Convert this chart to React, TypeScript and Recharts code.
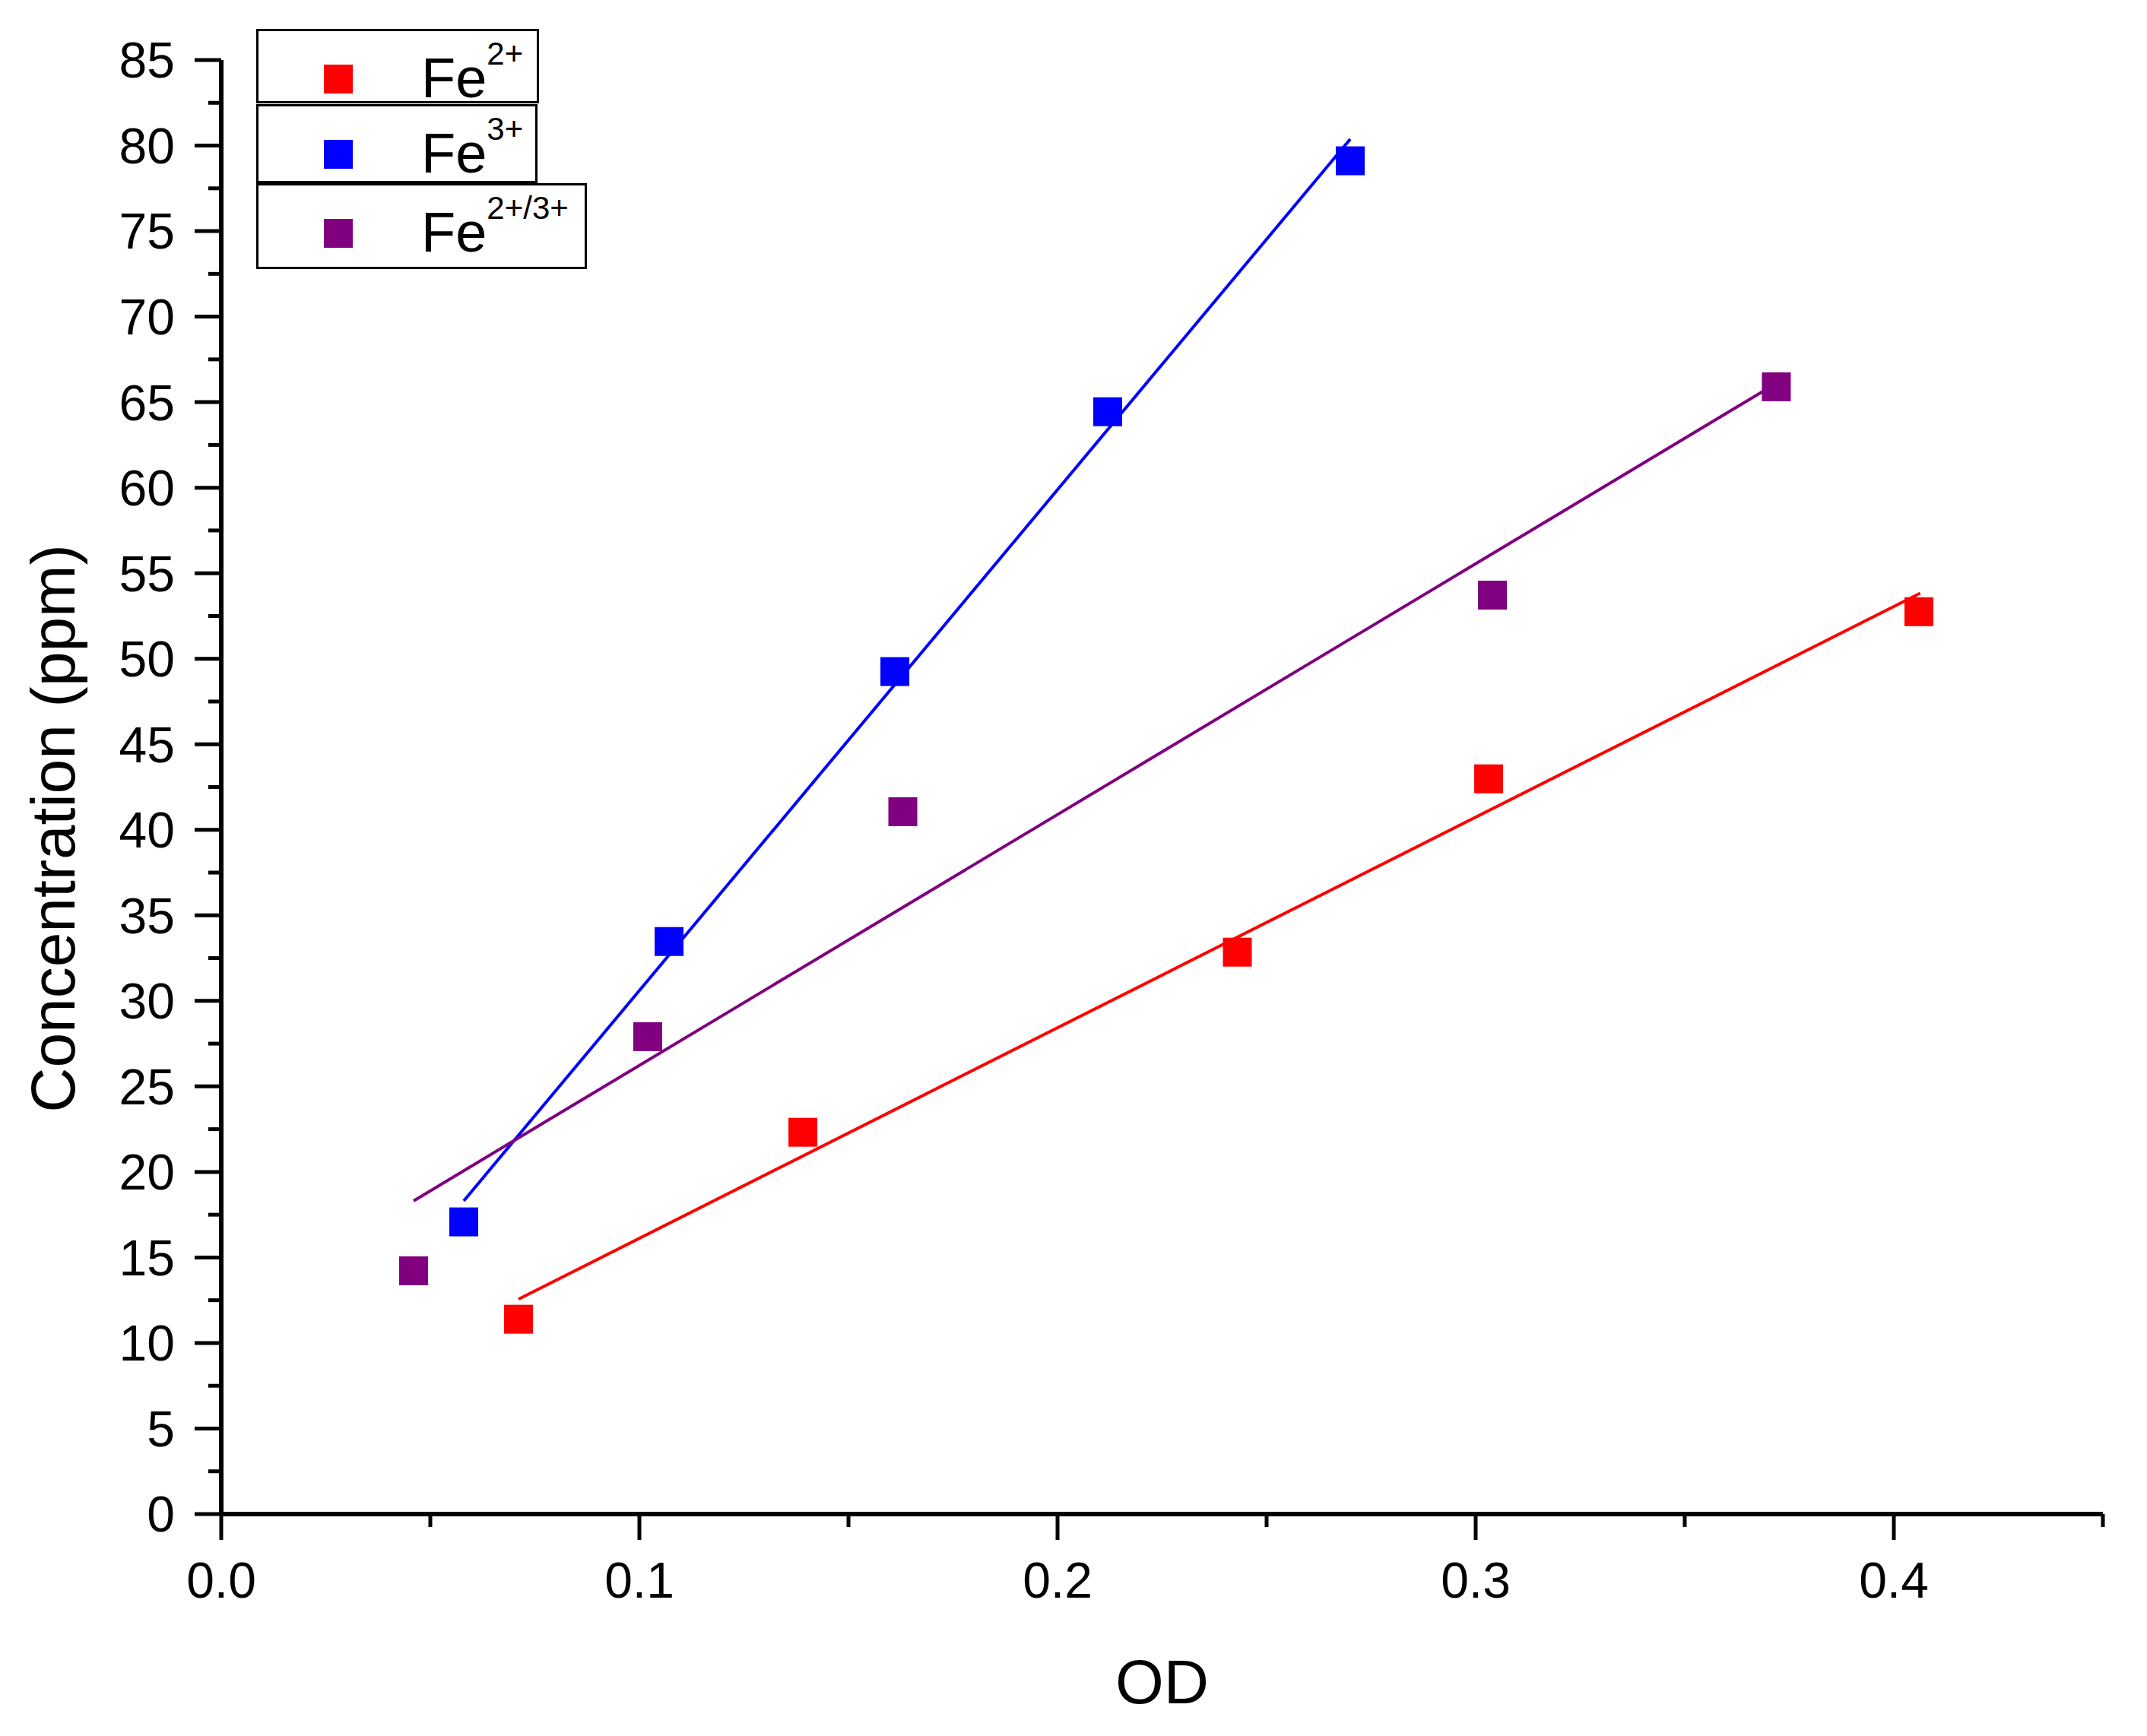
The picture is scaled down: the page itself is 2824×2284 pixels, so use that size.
import { ScatterChart, Scatter, XAxis, YAxis, Legend } from "recharts";

const W = 2824;
const H = 2284;
const FONT = "Arial, 'Liberation Sans', Helvetica, sans-serif";

const RED = "#ff0000";
const BLUE = "#0000ff";
const PURPLE = "#800080";

// measured points (OD vs concentration)
const FE2_OD = [0.0711, 0.1391, 0.243, 0.3031, 0.406];
const FE2_CONC = [11.39, 22.32, 32.85, 42.98, 52.75];
const FE3_OD = [0.058, 0.1071, 0.1611, 0.212, 0.27];
const FE3_CONC = [17.08, 33.47, 49.25, 64.44, 79.11];
const MIX_OD = [0.046, 0.102, 0.163, 0.304, 0.3719];
const MIX_CONC = [14.22, 27.91, 41.06, 53.72, 65.9];

// linear fits, end points
const FE2_FIT_OD = [0.0711, 0.4063];
const FE2_FIT_CONC = [12.56, 53.83];
const FE3_FIT_OD = [0.058, 0.27];
const FE3_FIT_CONC = [18.31, 80.38];
const MIX_FIT_OD = [0.046, 0.3719];
const MIX_FIT_CONC = [18.31, 66.1];

const SERIES_NAMES = ["Fe2+", "Fe3+", "Fe2+/3+"];
const SERIES_SUPS = ["2+", "3+", "2+/3+"];

const X_TICKS = [0, 0.05, 0.1, 0.15, 0.2, 0.25, 0.3, 0.35, 0.4, 0.45];
const X_LABELS = ["0.0", "", "0.1", "", "0.2", "", "0.3", "", "0.4", ""];
const Y_TICKS = [
  0, 2.5, 5, 7.5, 10, 12.5, 15, 17.5, 20, 22.5, 25, 27.5, 30, 32.5, 35, 37.5,
  40, 42.5, 45, 47.5, 50, 52.5, 55, 57.5, 60, 62.5, 65, 67.5, 70, 72.5, 75,
  77.5, 80, 82.5, 85,
];
const Y_LABELS = Y_TICKS.map((t) => (t % 5 === 0 ? String(t) : ""));

const toPoints = (xs: number[], ys: number[]) =>
  xs.map((x, i) => ({ x, y: ys[i] }));

const PLOT_LEFT = 291;
const PLOT_TOP = 79;
const PLOT_RIGHT = 2766;
const PLOT_BOTTOM = 1992;

function XTick(props: any) {
  const { x, payload } = props;
  const label = X_LABELS[X_TICKS.indexOf(payload.value)] ?? "";
  const major = label !== "";
  return (
    <g>
      <line
        x1={x}
        y1={PLOT_BOTTOM}
        x2={x}
        y2={PLOT_BOTTOM + (major ? 34 : 17)}
        stroke="#000"
        strokeWidth={5}
      />
      {major && (
        <text
          x={x}
          y={PLOT_BOTTOM + 63}
          dy="0.71em"
          textAnchor="middle"
          fontSize={66}
          fontFamily={FONT}
          fill="#000"
        >
          {label}
        </text>
      )}
    </g>
  );
}

function YTick(props: any) {
  const { y, payload } = props;
  const label = Y_LABELS[Y_TICKS.indexOf(payload.value)] ?? "";
  const major = label !== "";
  return (
    <g>
      <line
        x1={PLOT_LEFT}
        y1={y}
        x2={PLOT_LEFT - (major ? 35 : 17)}
        y2={y}
        stroke="#000"
        strokeWidth={5}
      />
      {major && (
        <text
          x={PLOT_LEFT - 61}
          y={y}
          dy="0.355em"
          textAnchor="end"
          fontSize={66}
          fontFamily={FONT}
          fill="#000"
        >
          {label}
        </text>
      )}
    </g>
  );
}

const square = (color: string) => (props: any) => (
  <rect x={props.cx - 19} y={props.cy - 19} width={38} height={38} fill={color} />
);

const noShape = () => <g />;

const LEGEND_COLORS = [RED, BLUE, PURPLE];
const BOX_TOPS = [0, 99, 203];
const BOX_HEIGHTS = [98, 104, 113];
const BOX_WIDTHS = [372, 370, 435];

function renderLegend() {
  return (
    <div style={{ position: "relative", width: 440, height: 320 }}>
      {SERIES_NAMES.map((name, i) => (
        <div
          key={name}
          style={{
            position: "absolute",
            left: 0,
            top: BOX_TOPS[i],
            width: BOX_WIDTHS[i],
            height: BOX_HEIGHTS[i],
            boxSizing: "border-box",
            border: "3px solid #000",
            background: "#fff",
          }}
        >
          <div
            style={{
              position: "absolute",
              left: 86,
              top: 44,
              width: 38,
              height: 38,
              background: LEGEND_COLORS[i],
            }}
          />
          <div
            style={{
              position: "absolute",
              left: 214,
              top: 25,
              fontFamily: FONT,
              fontSize: 74,
              lineHeight: 1,
              whiteSpace: "nowrap",
              color: "#000",
            }}
          >
            Fe
            <span style={{ position: "relative", top: -43, fontSize: 42 }}>
              {SERIES_SUPS[i]}
            </span>
          </div>
        </div>
      ))}
    </div>
  );
}

export default function App() {
  return (
    <div
      style={{
        position: "absolute",
        left: 0,
        top: 0,
        width: W,
        height: H,
        background: "#fff",
      }}
    >
      <ScatterChart
        width={W}
        height={H}
        margin={{ top: PLOT_TOP, right: W - PLOT_RIGHT, bottom: 0, left: 0 }}
      >
        <XAxis
          type="number"
          dataKey="x"
          domain={[0, 0.45]}
          ticks={X_TICKS}
          interval={0}
          allowDataOverflow
          height={H - PLOT_BOTTOM}
          axisLine={{ stroke: "#000", strokeWidth: 6 }}
          tickLine={false}
          tick={<XTick />}
          label={(p: any) => (
            <text
              x={PLOT_LEFT + (PLOT_RIGHT - PLOT_LEFT) / 2}
              y={2241}
              textAnchor="middle"
              fontSize={82}
              fontFamily={FONT}
              fill="#000"
            >
              OD
            </text>
          )}
        />
        <YAxis
          type="number"
          dataKey="y"
          domain={[0, 85]}
          ticks={Y_TICKS}
          interval={0}
          allowDataOverflow
          width={PLOT_LEFT}
          axisLine={{ stroke: "#000", strokeWidth: 6 }}
          tickLine={false}
          tick={<YTick />}
          label={(p: any) => (
            <text
              x={98}
              y={1090}
              transform="rotate(-90, 98, 1090)"
              textAnchor="middle"
              fontSize={82}
              fontFamily={FONT}
              fill="#000"
            >
              Concentration (ppm)
            </text>
          )}
        />
        <Legend
          layout="vertical"
          align="center"
          verticalAlign="middle"
          wrapperStyle={{ top: 38, left: 337, width: 440, height: 320 }}
          content={renderLegend}
        />
        <Scatter
          name="fit2"
          data={toPoints(FE2_FIT_OD, FE2_FIT_CONC)}
          fill={RED}
          line={{ strokeWidth: 4 }}
          shape={noShape}
          legendType="none"
          isAnimationActive={false}
        />
        <Scatter
          name="fit3"
          data={toPoints(FE3_FIT_OD, FE3_FIT_CONC)}
          fill={BLUE}
          line={{ strokeWidth: 4 }}
          shape={noShape}
          legendType="none"
          isAnimationActive={false}
        />
        <Scatter
          name="fitmix"
          data={toPoints(MIX_FIT_OD, MIX_FIT_CONC)}
          fill={PURPLE}
          line={{ strokeWidth: 4 }}
          shape={noShape}
          legendType="none"
          isAnimationActive={false}
        />
        <Scatter
          name={SERIES_NAMES[0]}
          data={toPoints(FE2_OD, FE2_CONC)}
          fill={RED}
          shape={square(RED)}
          isAnimationActive={false}
        />
        <Scatter
          name={SERIES_NAMES[1]}
          data={toPoints(FE3_OD, FE3_CONC)}
          fill={BLUE}
          shape={square(BLUE)}
          isAnimationActive={false}
        />
        <Scatter
          name={SERIES_NAMES[2]}
          data={toPoints(MIX_OD, MIX_CONC)}
          fill={PURPLE}
          shape={square(PURPLE)}
          isAnimationActive={false}
        />
      </ScatterChart>
    </div>
  );
}
